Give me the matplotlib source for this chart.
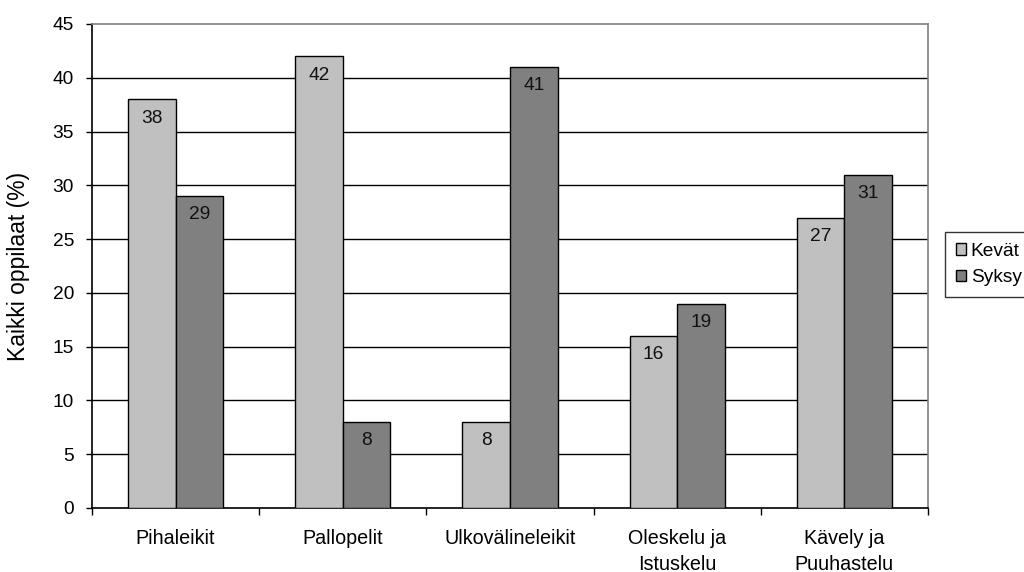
import matplotlib
matplotlib.use("Agg")
import matplotlib.pyplot as plt
import numpy as np
from matplotlib.patches import Patch

categories = ["Pihaleikit", "Pallopelit", "Ulkovälineleikit", "Oleskelu ja\nIstuskelu", "Kävely ja\nPuuhastelu"]
kevat = [38, 42, 8, 16, 27]
syksy = [29, 8, 41, 19, 31]
series_names = ["Kevät", "Syksy"]
yticks = list(range(0, 50, 5))

plt.rcParams['font.family'] = ['Liberation Sans', 'DejaVu Sans']

fig = plt.figure(figsize=(10.24, 5.72), dpi=100)
ax = fig.add_axes([92/1024, 1-508/572, (928-92)/1024, (508-24)/572])

x = np.arange(len(categories))
w = 0.285
light, dark = "#c0c0c0", "#808080"
b1 = ax.bar(x - w/2, kevat, w, color=light, edgecolor="black", linewidth=1.0, zorder=3)
b2 = ax.bar(x + w/2, syksy, w, color=dark, edgecolor="black", linewidth=1.0, zorder=3)

for bars, vals in ((b1, kevat), (b2, syksy)):
    for r, v in zip(bars, vals):
        ax.annotate(str(v), (r.get_x() + r.get_width()/2, v), xytext=(0, -13.5),
                    textcoords="offset points", ha="center", va="center",
                    fontsize=13.8, color="#111111", zorder=4)

ax.set_xlim(-0.5, len(categories) - 0.5)
ax.set_ylim(0, 45)
ax.set_yticks(yticks)
ax.tick_params(axis="y", labelsize=13.8, length=4, width=1, direction="out", pad=9)
ax.set_xticks(x)
ax.set_xticklabels(categories, fontsize=14.2, linespacing=1.48)
ax.set_xticks(np.arange(-0.5, len(categories)), minor=True)
ax.tick_params(axis="x", which="major", length=0, pad=15)
ax.tick_params(axis="x", which="minor", length=5, width=1, direction="out")

for yv in yticks[1:-1]:
    ax.axhline(yv, color="black", linewidth=1.0, zorder=1)

ax.spines["top"].set_color("#808080")
ax.spines["right"].set_color("#808080")
ax.spines["left"].set_color("black")
ax.spines["bottom"].set_color("black")
for s in ax.spines.values():
    s.set_linewidth(1.2)
    s.set_zorder(2)

ax.set_ylabel("Kaikki oppilaat (%)", fontsize=16.5, labelpad=16)

handles = [Patch(facecolor=light, edgecolor="black"), Patch(facecolor=dark, edgecolor="black")]
leg = fig.legend(handles, series_names, loc="upper left", bbox_to_anchor=(945/1024, 1-232/572),
                 fontsize=13.8, frameon=True, fancybox=False, handlelength=0.55, handleheight=0.55,
                 handletextpad=0.25, borderpad=0.55, labelspacing=0.5, borderaxespad=0)
leg.get_frame().set_edgecolor("black")
leg.get_frame().set_linewidth(1.0)

fig.savefig("out.png", dpi=100)
